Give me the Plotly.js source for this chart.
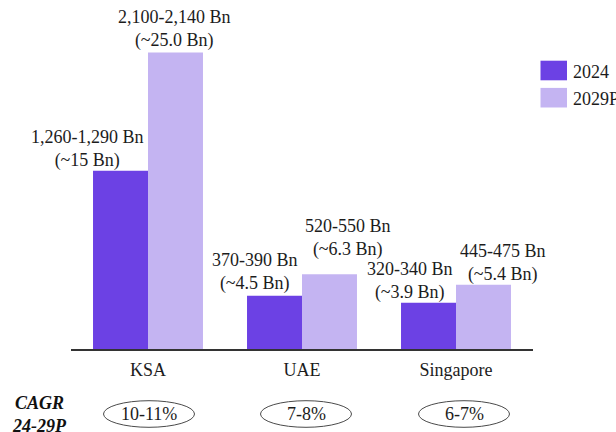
<!DOCTYPE html>
<html>
<head>
<meta charset="utf-8">
<script src="https://cdn.plot.ly/plotly-3.0.1.min.js"></script>
<style>html,body{margin:0;padding:0;background:#fff;}#chart{width:616px;height:432px;}</style>
</head>
<body>
<div id="chart"></div>
<script>
// ---- data ----
const categories = ["KSA", "UAE", "Singapore"];
const seriesNames = ["2024", "2029P"];
const values2024 = [1275, 380, 330];
const values2029 = [2120, 535, 460];
const labels2024 = ["1,260-1,290 Bn<br>(~15 Bn)", "370-390 Bn<br>(~4.5 Bn)", "320-340 Bn<br>(~3.9 Bn)"];
const labels2029 = ["2,100-2,140 Bn<br>(~25.0 Bn)", "520-550 Bn<br>(~6.3 Bn)", "445-475 Bn<br>(~5.4 Bn)"];
const cagrLabels = ["10-11%", "7-8%", "6-7%"];

// ---- styles ----
const W = 616, H = 432;
const M = {l: 71, r: 83, t: 20, b: 83};
const colors = ["#6c41e4", "#c4b4f2"];
const FONT = "Liberation Serif";
const TXT = "#1c1c1c";
// label offsets (pixels) [xshift, yshift]
const off2024 = [[-33, -2], [-20, 0], [-19, -2]];
const off2029 = [[-1, -1], [18, 12], [19, -2]];
const cagrShift = [1, 4, 8]; // ellipse pixel shift from category centre

const pw = W - M.l - M.r, ph = H - M.t - M.b;
const px2x = p => (p - M.l) / pw;
const px2y = p => (H - M.b - p) / ph;

const traces = [values2024, values2029].map((v, i) => ({
  type: "bar", x: categories, y: v, name: seriesNames[i],
  marker: {color: colors[i], line: {width: 0}}, hoverinfo: "skip"
}));

const annotations = [];
[[values2024, labels2024, off2024, 0], [values2029, labels2029, off2029, 1]].forEach(([vals, labs, offs, si]) => {
  vals.forEach((v, k) => {
    annotations.push({
      x: k, y: v, xref: "x", yref: "y", text: labs[k], showarrow: false,
      xanchor: "center", yanchor: "bottom",
      xshift: (si === 0 ? -27.5 : 27.5) + offs[k][0], yshift: offs[k][1],
      font: {family: FONT, size: 18, color: TXT}
    });
  });
});

const shapes = [];
const cagrY = px2y(414);
categories.forEach((c, k) => {
  shapes.push({
    type: "circle", xref: "x", yref: "paper", xsizemode: "pixel", ysizemode: "pixel",
    xanchor: k, yanchor: cagrY, x0: -45.5 + cagrShift[k], x1: 45.5 + cagrShift[k], y0: -13.3, y1: 13.3,
    line: {color: "#4a4a4a", width: 1}, fillcolor: "rgba(0,0,0,0)"
  });
  annotations.push({
    x: k, y: cagrY, xref: "x", yref: "paper", text: cagrLabels[k], showarrow: false,
    xanchor: "center", yanchor: "middle", xshift: cagrShift[k],
    font: {family: FONT, size: 18, color: TXT}
  });
});
annotations.push({
  x: px2x(39), y: px2y(414), xref: "paper", yref: "paper", showarrow: false,
  text: "<b><i>CAGR</i></b><br><b><i>24-29P</i></b>", xanchor: "center", yanchor: "middle",
  font: {family: FONT, size: 18, color: "#111111"}
});

// legend (drawn manually to match swatch size)
const legY = [70.5, 97.7];
seriesNames.forEach((n, i) => {
  shapes.push({
    type: "rect", xref: "paper", yref: "paper",
    x0: px2x(540.5), x1: px2x(567), y0: px2y(legY[i] + 9.8), y1: px2y(legY[i] - 9.8),
    fillcolor: colors[i], line: {width: 0}
  });
  annotations.push({
    x: px2x(571), y: px2y(legY[i] + 1.5), xref: "paper", yref: "paper", text: n, showarrow: false,
    xanchor: "left", yanchor: "middle", font: {family: FONT, size: 18, color: TXT}
  });
});

const layout = {
  width: W, height: H, margin: M,
  paper_bgcolor: "#ffffff", plot_bgcolor: "#ffffff",
  barmode: "group", bargap: 0.286, bargroupgap: 0,
  showlegend: false,
  xaxis: {
    type: "category", range: [-0.5, 2.5], autorange: false,
    showline: true, linecolor: "#333333", linewidth: 2,
    ticks: "", showgrid: false, zeroline: false, ticklabelstandoff: 3,
    tickfont: {family: FONT, size: 18, color: TXT}
  },
  yaxis: {visible: false, range: [0, 2352], autorange: false, showgrid: false, zeroline: false},
  annotations: annotations, shapes: shapes
};

Plotly.newPlot("chart", traces, layout, {displayModeBar: false, staticPlot: true});
</script>
</body>
</html>
